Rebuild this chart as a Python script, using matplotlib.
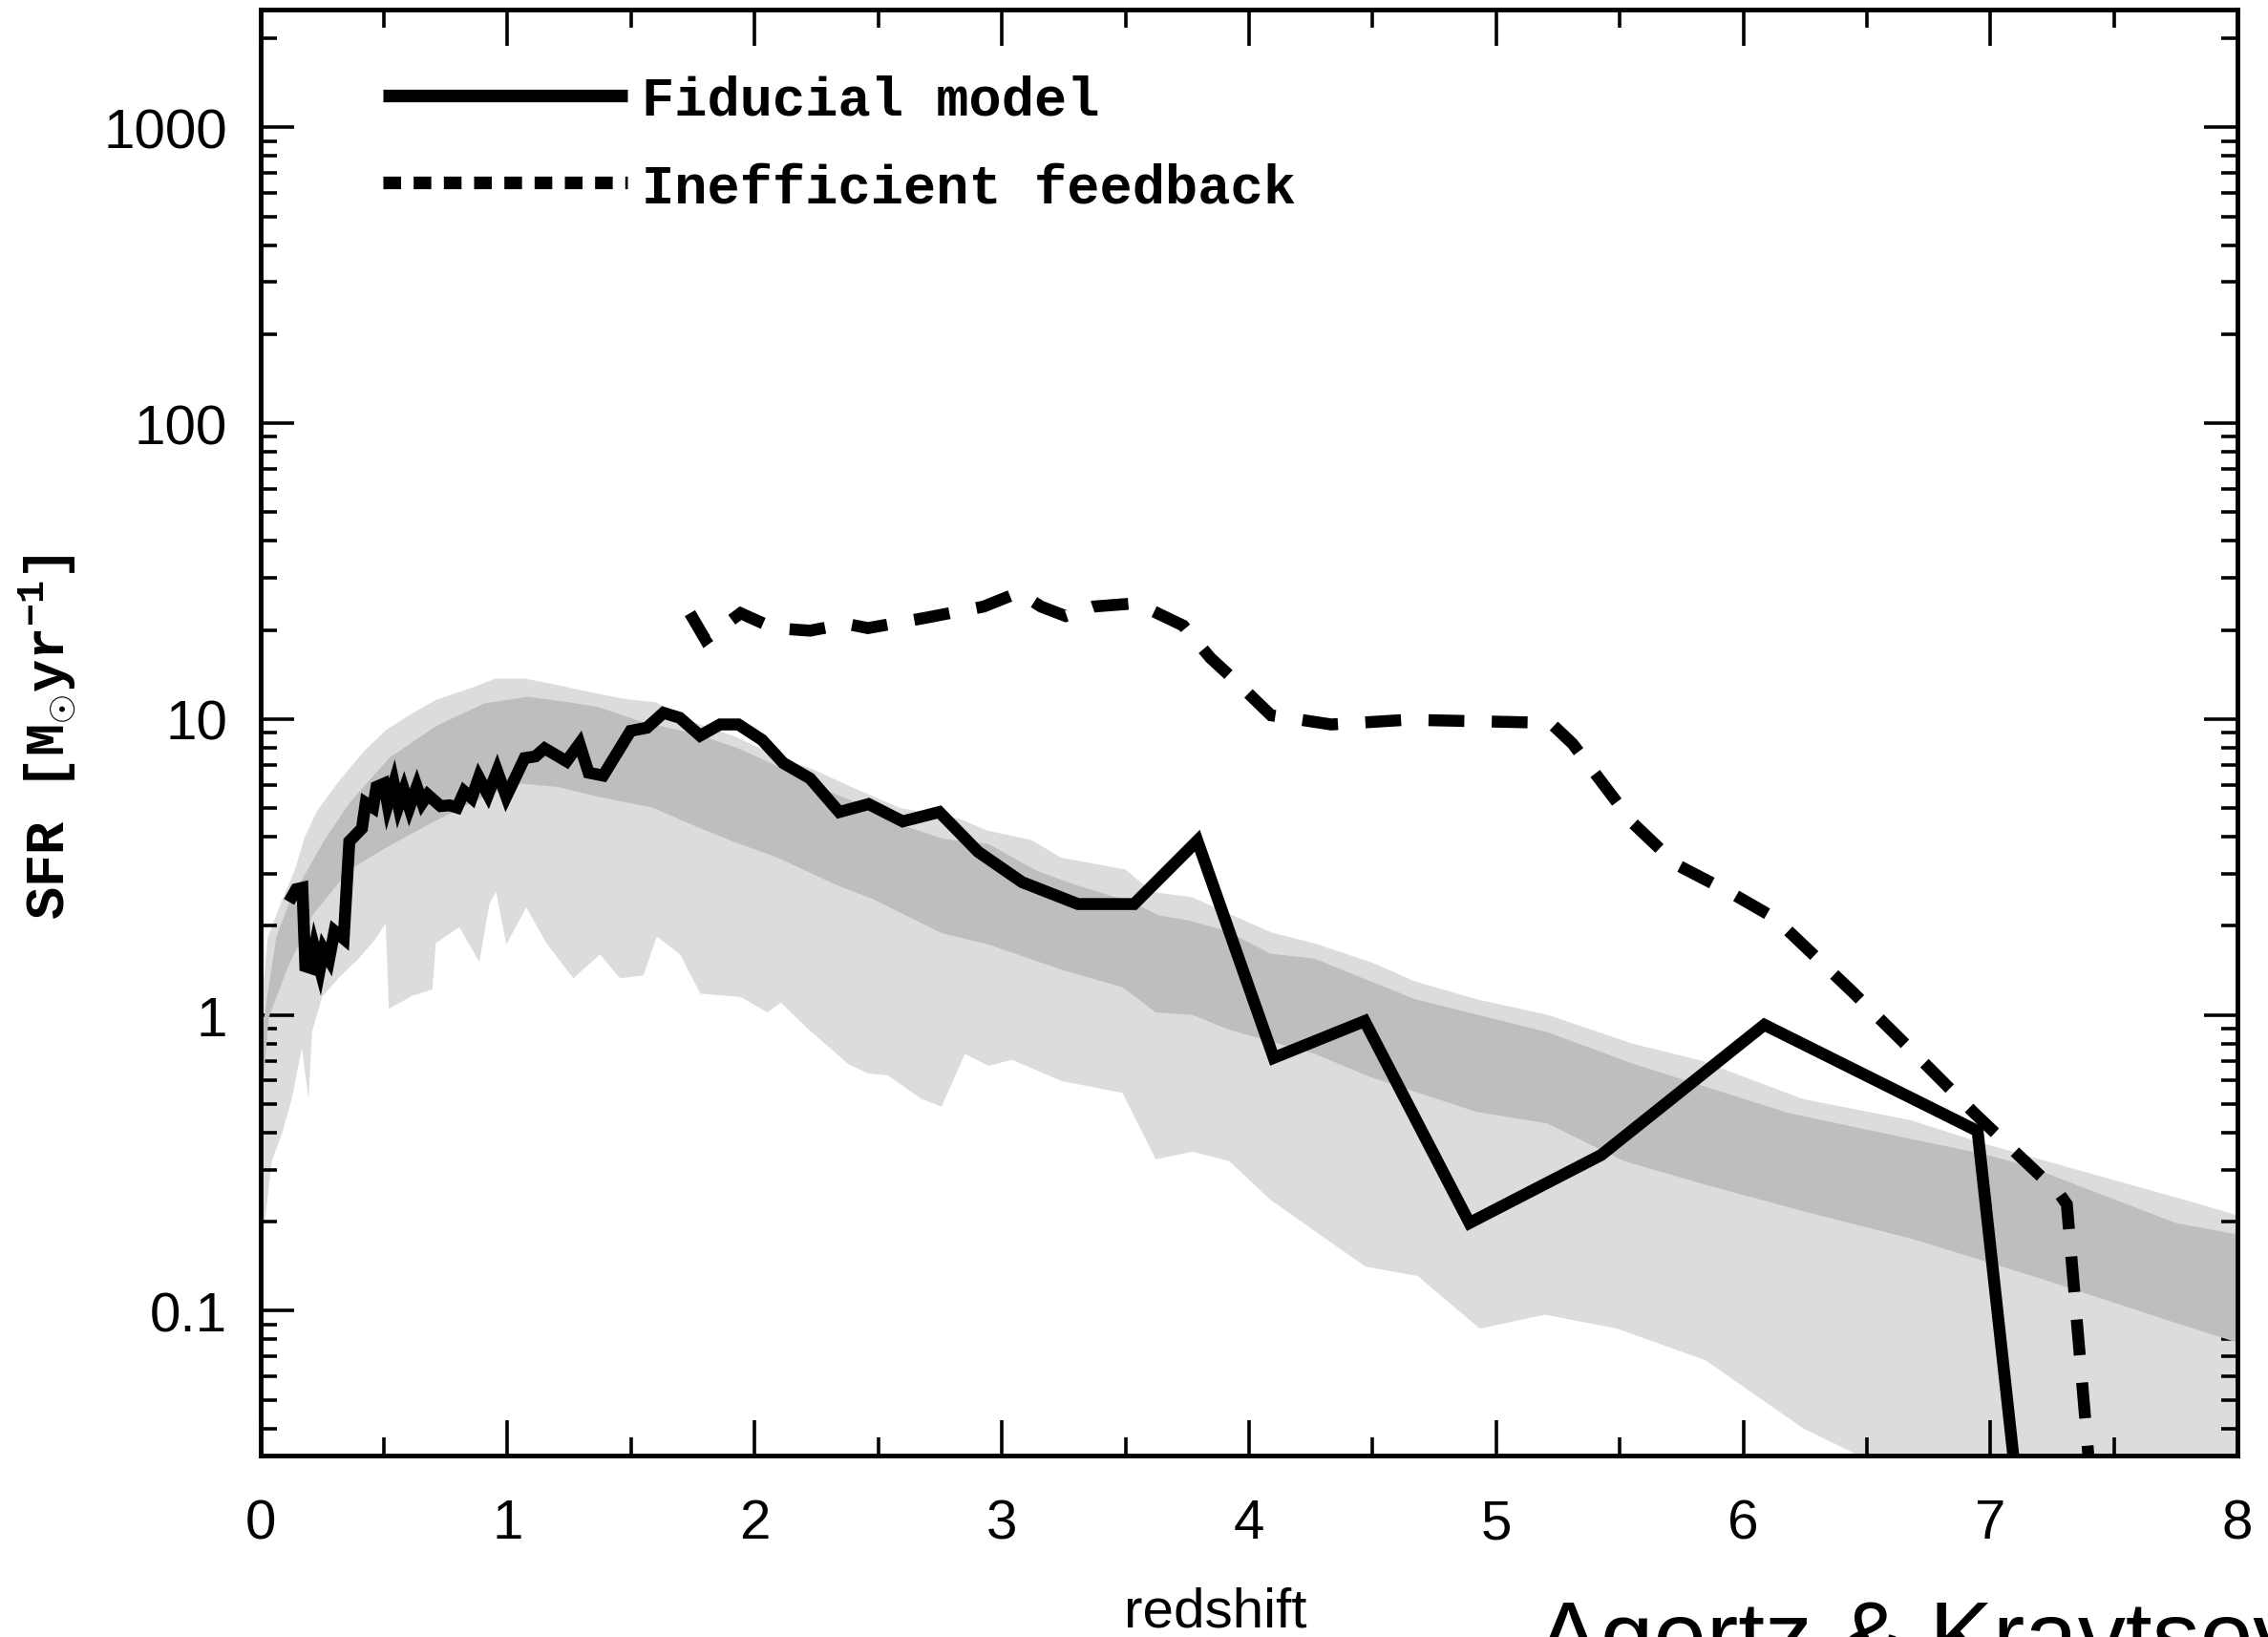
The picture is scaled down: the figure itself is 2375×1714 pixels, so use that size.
import numpy as np
import matplotlib
matplotlib.use('Agg')
import matplotlib.pyplot as plt
from matplotlib.lines import Line2D
from matplotlib.ticker import LogLocator, MultipleLocator, NullFormatter

# Fiducial model SFR history
z_fid = [0.116, 0.145, 0.170, 0.182, 0.204, 0.219, 0.241, 0.256, 0.278, 0.300,
         0.337, 0.360, 0.411, 0.426, 0.456, 0.470, 0.500, 0.515, 0.540, 0.559,
         0.581, 0.603, 0.633, 0.655, 0.677, 0.729, 0.766, 0.796, 0.825, 0.855,
         0.884, 0.921, 0.958, 0.995, 1.069, 1.113, 1.150, 1.239, 1.291, 1.328,
         1.387, 1.498, 1.564, 1.631, 1.697, 1.779, 1.860, 1.934, 2.030, 2.116,
         2.224, 2.342, 2.461, 2.599, 2.747, 2.904, 3.082, 3.308, 3.535, 3.791,
         4.100, 4.468, 4.892, 5.425, 6.085, 6.948, 7.120]
sfr_fid = [2.41, 2.66, 2.69, 1.46, 1.44, 1.68, 1.43, 1.66, 1.54, 1.92,
           1.81, 3.86, 4.27, 5.21, 5.02, 5.90, 6.05, 5.14, 6.05, 5.08,
           5.75, 5.02, 5.90, 5.21, 5.55, 5.08, 5.11, 5.02, 5.69, 5.41,
           6.35, 5.55, 6.68, 5.47, 7.38, 7.48, 7.96, 7.20, 8.26, 6.59,
           6.44, 9.12, 9.35, 10.5, 10.1, 8.79, 9.59, 9.59, 8.5, 7.1,
           6.3, 4.85, 5.16, 4.51, 4.85, 3.56, 2.81, 2.37, 2.37, 3.88,
           0.716, 0.953, 0.198, 0.336, 0.926, 0.405, 0.02]

# Inefficient feedback run
z_ineff = [1.738, 1.800, 1.943, 2.077, 2.224, 2.370, 2.458, 2.692, 2.926, 3.069,
           3.159, 3.258, 3.369, 3.535, 3.601, 3.734, 3.844, 3.956, 4.089, 4.333,
           4.643, 5.220, 5.309, 5.553, 5.730, 5.952, 6.129, 6.440, 6.681, 6.933,
           7.121, 7.278, 7.309, 7.420]
sfr_ineff = [22.8, 18.6, 22.8, 20.3, 19.9, 21.0, 20.3, 22.0, 24.0, 26.8,
             24.0, 22.3, 24.0, 24.6, 23.4, 20.7, 16.1, 13.2, 10.3, 9.59,
             9.95, 9.71, 8.26, 4.45, 3.22, 2.58, 2.12, 1.20, 0.759, 0.467,
             0.331, 0.249, 0.229, 0.019]

# outer (light) band, upper edge
z_lu = [0.0, 0.03, 0.08, 0.14, 0.18, 0.23, 0.32, 0.42, 0.51, 0.61, 0.71, 0.86,
        0.95, 1.07, 1.17, 1.32, 1.47, 1.60, 1.76, 1.91, 2.12, 2.23, 2.39, 2.59,
        2.83, 2.94, 3.12, 3.24, 3.50, 3.61, 3.77, 4.09, 4.26, 4.50, 4.67, 4.92,
        5.21, 5.55, 5.83, 6.24, 6.68, 6.96, 7.84, 8.0]
sfr_lu = [1.0, 1.83, 2.35, 3.1, 4.0, 4.9, 6.2, 7.8, 9.2, 10.4, 11.6, 12.8,
          13.7, 13.7, 13.2, 12.4, 11.7, 11.4, 9.7, 8.8, 7.3, 6.8, 5.9, 5.0,
          4.6, 4.2, 3.9, 3.4, 3.1, 2.6, 2.5, 1.9, 1.75, 1.5, 1.3, 1.13,
          1.0, 0.80, 0.70, 0.52, 0.44, 0.37, 0.23, 0.21]

# outer (light) band, lower edge
z_ll = [0.0, 0.019, 0.046, 0.087, 0.127, 0.168, 0.195, 0.209, 0.249, 0.317,
        0.398, 0.466, 0.507, 0.520, 0.615, 0.696, 0.710, 0.805, 0.886, 0.927,
        0.954, 0.995, 1.076, 1.157, 1.266, 1.374, 1.455, 1.550, 1.604, 1.699,
        1.780, 1.943, 2.051, 2.106, 2.214, 2.377, 2.458, 2.539, 2.675, 2.756,
        2.851, 2.946, 3.041, 3.244, 3.488, 3.623, 3.772, 3.921, 4.087, 4.471,
        4.683, 4.934, 5.198, 5.489, 5.847, 6.243, 6.481, 7.0, 8.0]
sfr_ll = [0.166, 0.203, 0.320, 0.396, 0.520, 0.773, 0.520, 0.873, 1.146, 1.334,
          1.552, 1.807, 2.04, 1.05, 1.16, 1.22, 1.75, 1.98, 1.51, 2.38,
          2.61, 1.73, 2.31, 1.75, 1.33, 1.60, 1.33, 1.36, 1.84, 1.60,
          1.18, 1.15, 1.02, 1.10, 0.90, 0.684, 0.634, 0.625, 0.520, 0.490,
          0.738, 0.673, 0.705, 0.597, 0.545, 0.325, 0.345, 0.320, 0.237, 0.141,
          0.131, 0.087, 0.097, 0.087, 0.068, 0.040, 0.032, 0.016, 0.005]

# inner (dark) band, upper edge
z_du = [0.0, 0.064, 0.123, 0.182, 0.256, 0.360, 0.522, 0.714, 0.906, 1.084,
        1.246, 1.365, 1.542, 1.764, 1.927, 2.133, 2.234, 2.392, 2.609, 2.766,
        2.944, 3.141, 3.299, 3.535, 3.634, 3.752, 3.910, 4.087, 4.264, 4.672,
        5.206, 5.551, 6.179, 6.681, 6.964, 7.143, 7.749, 8.0]
sfr_du = [0.8, 1.83, 2.47, 3.0, 3.86, 5.2, 7.4, 9.5, 11.3, 11.9,
          11.4, 11.0, 9.8, 8.9, 8.0, 6.7, 6.0, 5.3, 4.34, 3.93,
          3.79, 3.07, 2.75, 2.39, 2.17, 2.09, 1.92, 1.61, 1.55, 1.13,
          0.875, 0.685, 0.467, 0.38, 0.34, 0.31, 0.198, 0.181]

# inner (dark) band, lower edge
z_dl = [0.0, 0.034, 0.108, 0.212, 0.360, 0.507, 0.700, 0.906, 1.054, 1.202,
        1.365, 1.587, 1.764, 1.912, 2.089, 2.322, 2.485, 2.756, 2.946, 3.244,
        3.488, 3.623, 3.772, 3.921, 4.264, 4.483, 4.921, 5.206, 5.520, 5.865,
        6.243, 6.693, 7.196, 7.749, 8.0]
sfr_dl = [0.45, 0.98, 1.43, 2.18, 3.09, 3.67, 4.49, 5.47, 6.05, 5.9,
          5.47, 5.02, 4.33, 3.86, 3.41, 2.77, 2.45, 1.89, 1.73, 1.42,
          1.24, 1.02, 1.0, 0.89, 0.74, 0.62, 0.47, 0.43, 0.32, 0.264,
          0.217, 0.174, 0.129, 0.091, 0.078]

y_ticks = [0.1, 1, 10, 100, 1000]
y_ticklabels = ['0.1', '1', '10', '100', '1000']
x_ticks = [0, 1, 2, 3, 4, 5, 6, 7, 8]

plt.rcParams['font.family'] = ['Liberation Sans', 'DejaVu Sans']
plt.rcParams['mathtext.fontset'] = 'custom'
plt.rcParams['mathtext.rm'] = 'Liberation Mono:bold'
plt.rcParams['mathtext.it'] = 'Liberation Mono:bold'

fig = plt.figure(figsize=(23.75, 17.15), dpi=100)
ax = fig.add_axes([0.1148, 0.1108, 0.8718, 0.883])

light = '#dcdcdc'
dark = '#bebebe'
ax.fill(np.concatenate([z_lu, z_ll[::-1]]), np.concatenate([sfr_lu, sfr_ll[::-1]]),
        color=light, lw=0, zorder=1)
ax.fill(np.concatenate([z_du, z_dl[::-1]]), np.concatenate([sfr_du, sfr_dl[::-1]]),
        color=dark, lw=0, zorder=2)

ax.plot(z_fid, sfr_fid, color='k', lw=9, solid_joinstyle='miter',
        solid_capstyle='butt', zorder=4)
ax.plot(z_ineff, sfr_ineff, color='k', lw=9, ls=(0, (3.0, 2.3)),
        dash_joinstyle='miter', dash_capstyle='butt', zorder=4)

ax.set_yscale('log')
ax.set_xlim(0, 8)
ax.set_ylim(0.0324, 2510)
ax.set_xticks(x_ticks)
ax.set_xticklabels([str(v) for v in x_ticks])
ax.xaxis.set_minor_locator(MultipleLocator(0.5))
ax.set_yticks(y_ticks)
ax.set_yticklabels(y_ticklabels)
ax.yaxis.set_minor_locator(LogLocator(base=10, subs=np.arange(2, 10)))
ax.yaxis.set_minor_formatter(NullFormatter())

for s in ax.spines.values():
    s.set_linewidth(3.5)
ax.tick_params(axis='x', which='major', direction='in', length=27, width=2.6,
               top=True, pad=32, labelsize=42)
ax.tick_params(axis='x', which='minor', direction='in', length=13.5, width=2.6, top=True)
ax.tick_params(axis='y', which='major', direction='in', length=25, width=2.6,
               right=True, pad=25, labelsize=42)
ax.tick_params(axis='y', which='minor', direction='in', length=12, width=2.6, right=True)

ax.set_xlabel('redshift', fontsize=42)
ax.xaxis.set_label_coords(0.483, -0.090)

fig.text(0.021, 0.550, r'SFR [M$_{\odot}$yr$^{-1}$]', rotation=90, ha='center',
         va='center', fontsize=41, family='Liberation Mono', weight='bold')

handles = [Line2D([], [], color='k', lw=9.5, solid_capstyle='butt'),
           Line2D([], [], color='k', lw=9.5, ls=(0, (1.4, 1.0)), dash_capstyle='butt')]
ax.legend(handles, ['Fiducial model', 'Inefficient feedback'], loc='upper left',
          bbox_to_anchor=(0.062, 0.955), borderpad=0, borderaxespad=0, frameon=False,
          handlelength=4.5, handletextpad=0.25, labelspacing=0.66,
          prop={'family': 'Liberation Mono', 'weight': 'bold', 'size': 41})

# credit line, cut off by the bottom edge as in the original
fig.text(0.6775, -0.0185, 'Agertz & Kravtsov', fontsize=72, va='baseline', ha='left')

fig.savefig('out.png', dpi=100)
